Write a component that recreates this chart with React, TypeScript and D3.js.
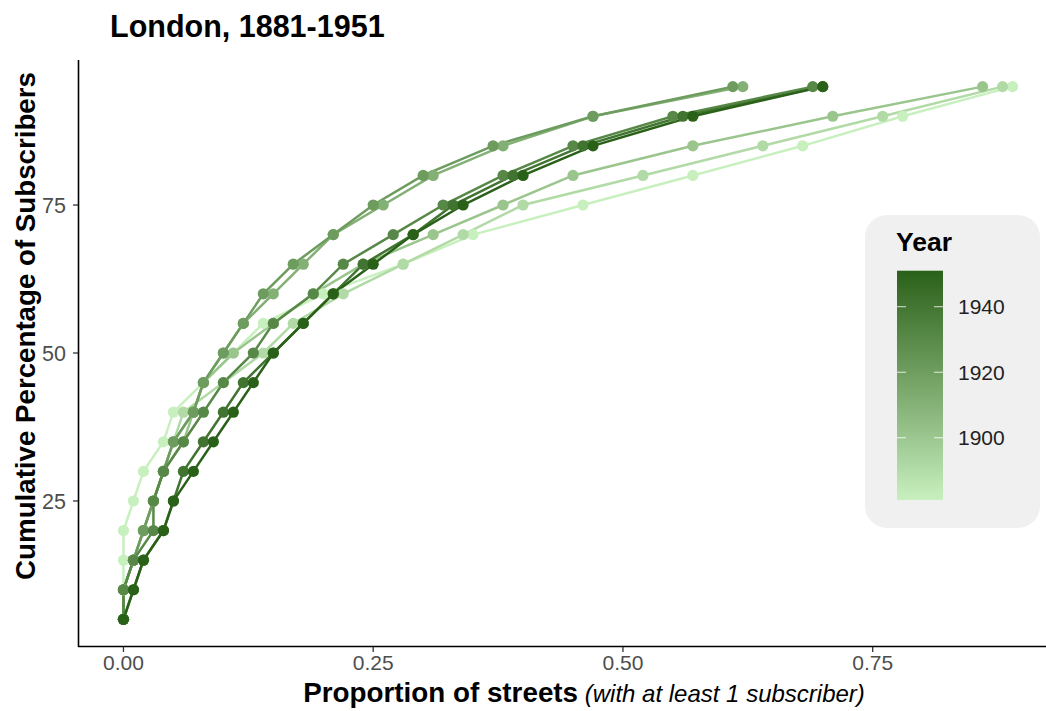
import React from "react";
import * as d3 from "d3";

// Cumulative share of telephone subscribers (y) against the proportion of
// streets that hold them (x), one curve per census year.
const cumulativePct = [5, 10, 15, 20, 25, 30, 35, 40, 45, 50, 55, 60, 65, 70, 75, 80, 85, 90, 95];

const years = [1881, 1891, 1901, 1911, 1921, 1931, 1941, 1951];

const streets1881 = [0, 0, 0, 0, 0.01, 0.02, 0.04, 0.05, 0.08, 0.11, 0.14, 0.2, 0.28, 0.35, 0.46, 0.57, 0.68, 0.78, 0.89];
const streets1891 = [0, 0, 0.01, 0.02, 0.03, 0.04, 0.05, 0.06, 0.1, 0.14, 0.17, 0.22, 0.28, 0.34, 0.4, 0.52, 0.64, 0.76, 0.88];
const streets1901 = [0, 0, 0.01, 0.02, 0.03, 0.04, 0.06, 0.07, 0.08, 0.11, 0.15, 0.19, 0.24, 0.31, 0.38, 0.45, 0.57, 0.71, 0.86];
const streets1911 = [0, 0, 0.01, 0.02, 0.03, 0.04, 0.05, 0.07, 0.08, 0.1, 0.12, 0.15, 0.18, 0.21, 0.26, 0.31, 0.38, 0.47, 0.62];
const streets1921 = [0, 0, 0.01, 0.02, 0.03, 0.04, 0.05, 0.07, 0.08, 0.1, 0.12, 0.14, 0.17, 0.21, 0.25, 0.3, 0.37, 0.47, 0.61];
const streets1931 = [0, 0, 0.01, 0.03, 0.03, 0.04, 0.06, 0.08, 0.1, 0.13, 0.15, 0.19, 0.22, 0.27, 0.32, 0.38, 0.45, 0.55, 0.69];
const streets1941 = [0, 0.01, 0.02, 0.04, 0.05, 0.06, 0.08, 0.1, 0.12, 0.15, 0.18, 0.21, 0.24, 0.29, 0.33, 0.39, 0.46, 0.56, 0.7];
const streets1951 = [0, 0.01, 0.02, 0.04, 0.05, 0.07, 0.09, 0.11, 0.13, 0.15, 0.18, 0.21, 0.25, 0.29, 0.34, 0.4, 0.47, 0.57, 0.7];

const streetsByYear = [streets1881, streets1891, streets1901, streets1911, streets1921, streets1931, streets1941, streets1951];

const xTicks = [0, 0.25, 0.5, 0.75];
const yTicks = [25, 50, 75];
const legendTicks = [1900, 1920, 1940];

const W = 1046;
const H = 711;
const FONT = "'Liberation Sans', Arial, Helvetica, sans-serif";

type Pt = { x: number; y: number };

export default function App() {
  const x = d3.scaleLinear().domain([-0.0445, 0.9345]).range([79, 1057]);
  const y = d3.scaleLinear().domain([0.5, 99.5]).range([646, 60]);

  const color = d3
    .scaleLinear<string>()
    .domain([1881, 1951])
    .range(["#c8f0bf", "#2a6119"])
    .interpolate(d3.interpolateLab);

  const series = years.map((yr, i) => ({
    year: yr,
    pts: cumulativePct.map((p, j) => ({ x: streetsByYear[i][j], y: p })) as Pt[],
  }));

  const line = d3
    .line<Pt>()
    .x((d) => x(d.x))
    .y((d) => y(d.y));

  // colourbar legend
  const barX = 897;
  const barW = 46;
  const ly = d3.scaleLinear().domain([1881, 1951]).range([500, 270.7]);
  const gradStops = d3.range(0, 11).map((k) => {
    const yr = 1881 + (70 * k) / 10;
    return { offset: `${k * 10}%`, c: color(yr) };
  });

  return (
    <svg
      width={W}
      height={H}
      style={{ position: "absolute", left: 0, top: 0, background: "#fff" }}
      fontFamily={FONT}
    >
      <defs>
        <linearGradient id="yearGrad" x1="0" y1="1" x2="0" y2="0">
          {gradStops.map((s) => (
            <stop key={s.offset} offset={s.offset} stopColor={s.c} />
          ))}
        </linearGradient>
        <clipPath id="panelClip">
          <rect x={79} y={60} width={W - 79} height={586} />
        </clipPath>
      </defs>

      {/* title */}
      <text x={110} y={37} fontSize={30.5} fontWeight="bold" fill="#000">
        London, 1881-1951
      </text>

      {/* series */}
      <g clipPath="url(#panelClip)">
        {series.map((s) => (
          <path
            key={`l${s.year}`}
            d={line(s.pts) || ""}
            fill="none"
            stroke={color(s.year)}
            strokeWidth={2.5}
          />
        ))}
        {series.map((s) =>
          s.pts.map((p, j) => (
            <circle key={`p${s.year}-${j}`} cx={x(p.x)} cy={y(p.y)} r={5.6} fill={color(s.year)} />
          ))
        )}
      </g>

      {/* axes */}
      <line x1={78.5} x2={78.5} y1={60} y2={647} stroke="#000" strokeWidth={1.6} />
      <line x1={78} x2={W} y1={646.5} y2={646.5} stroke="#000" strokeWidth={1.6} />
      {yTicks.map((t) => (
        <g key={`yt${t}`}>
          <line x1={73} x2={78} y1={y(t)} y2={y(t)} stroke="#333" strokeWidth={1.3} />
          <text x={66} y={y(t)} dy="0.36em" textAnchor="end" fontSize={21.5} fill="#4d4d4d">
            {t}
          </text>
        </g>
      ))}
      {xTicks.map((t) => (
        <g key={`xt${t}`}>
          <line x1={x(t)} x2={x(t)} y1={647} y2={652} stroke="#333" strokeWidth={1.3} />
          <text x={x(t)} y={670} textAnchor="middle" fontSize={21} fill="#4d4d4d">
            {d3.format(".2f")(t)}
          </text>
        </g>
      ))}

      {/* axis titles */}
      <text
        transform={`translate(35,326) rotate(-90)`}
        textAnchor="middle"
        fontSize={27.7}
        fontWeight="bold"
        fill="#000"
      >
        Cumulative Percentage of Subscribers
      </text>
      <text x={584} y={702} textAnchor="middle" fill="#000">
        <tspan fontSize={27.8} fontWeight="bold">
          Proportion of streets
        </tspan>
        <tspan fontSize={24} fontStyle="italic">
          {" (with at least 1 subscriber)"}
        </tspan>
      </text>

      {/* legend */}
      <rect x={865} y={215} width={175} height={313} rx={22} fill="#f0f0f0" />
      <text x={896} y={251} fontSize={26.5} fontWeight="bold" fill="#000">
        Year
      </text>
      <rect x={barX} y={ly(1951)} width={barW} height={ly(1881) - ly(1951)} fill="url(#yearGrad)" />
      {legendTicks.map((t) => (
        <g key={`lt${t}`}>
          <line x1={barX} x2={barX + 9} y1={ly(t)} y2={ly(t)} stroke="#fff" strokeOpacity={0.8} strokeWidth={1} />
          <line
            x1={barX + barW - 9}
            x2={barX + barW}
            y1={ly(t)}
            y2={ly(t)}
            stroke="#fff"
            strokeOpacity={0.8}
            strokeWidth={1}
          />
          <text x={958} y={ly(t)} dy="0.36em" fontSize={21} fill="#222">
            {t}
          </text>
        </g>
      ))}
    </svg>
  );
}
